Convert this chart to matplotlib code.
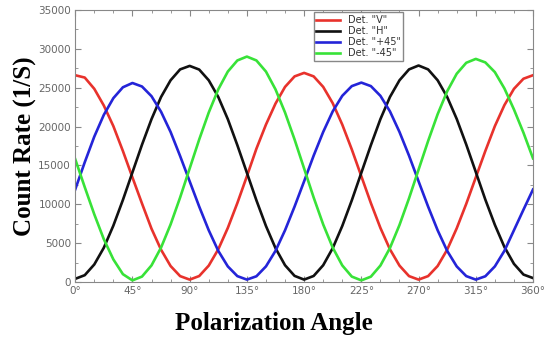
import matplotlib.pyplot as plt
from matplotlib.ticker import MultipleLocator

# polarization angle (deg), sampled every 7.5 deg
angle = [0, 7.5, 15, 22.5, 30, 37.5, 45, 52.5, 60, 67.5, 75, 82.5, 90,
         97.5, 105, 112.5, 120, 127.5, 135, 142.5, 150, 157.5, 165, 172.5, 180,
         187.5, 195, 202.5, 210, 217.5, 225, 232.5, 240, 247.5, 255, 262.5, 270,
         277.5, 285, 292.5, 300, 307.5, 315, 322.5, 330, 337.5, 345, 352.5, 360]

# count rates (1/s)
det_v = [26600, 26300, 24850, 22700, 20050, 16850, 13450, 10100, 6850, 4150, 2050, 750, 300,
         760, 2100, 4200, 6950, 10150, 13600, 17150, 20250, 22950, 25100, 26450, 26900,
         26450, 25100, 23000, 20250, 17050, 13600, 10150, 6950, 4200, 2100, 750, 300,
         750, 2050, 4150, 6900, 10050, 13450, 16850, 20050, 22750, 24850, 26150, 26600]
det_h = [400, 870, 2250, 4400, 7250, 10550, 14100, 17650, 20950, 23800, 25950, 27350, 27800,
         27330, 25950, 23800, 20950, 17600, 14050, 10500, 7200, 4350, 2150, 780, 300,
         770, 2150, 4350, 7200, 10500, 14050, 17600, 20950, 23800, 25950, 27350, 27850,
         27350, 25950, 23800, 20980, 17680, 14150, 10600, 7350, 4500, 2330, 950, 500]
det_p45 = [11900, 15400, 18700, 21500, 23650, 25050, 25600,
           25150, 23900, 21900, 19300, 16200, 12950, 9700, 6650, 4000, 2000, 750, 300,
           730, 2000, 4000, 6650, 9700, 12950, 16250, 19300, 21950, 23950, 25200, 25650,
           25200, 23950, 21950, 19300, 16250, 12950, 9700, 6650, 4000, 2000, 750, 300,
           730, 2000, 4000, 6650, 9300, 11900]
det_m45 = [15800, 12200, 8700, 5500, 2900, 1000, 200,
           690, 2130, 4420, 7400, 10870, 14600, 18330, 21800, 24780, 27070, 28500, 29000,
           28500, 27070, 24780, 21800, 18330, 14600, 10870, 7400, 4420, 2130, 690, 200,
           680, 2110, 4370, 7330, 10760, 14450, 18130, 21580, 24530, 26790, 28200, 28700,
           28250, 27000, 24900, 22200, 19200, 15900]

labels = ['Det. "V"', 'Det. "H"', 'Det. "+45"', 'Det. "-45"']
colors = ['#e8322c', '#111111', '#2424d8', '#38e238']
xticks = [0, 45, 90, 135, 180, 225, 270, 315, 360]

fig = plt.figure(figsize=(5.45, 3.43), dpi=100)
ax = fig.add_axes([0.138, 0.178, 0.840, 0.793])

for y, lab, c in zip([det_v, det_h, det_p45, det_m45], labels, colors):
    ax.plot(angle, y, color=c, lw=1.9, label=lab)

ax.set_xlim(0, 360)
ax.set_ylim(0, 35000)
ax.set_xticks(xticks)
ax.set_xticklabels([str(a) + '°' for a in xticks])
ax.yaxis.set_major_locator(MultipleLocator(5000))
ax.yaxis.set_minor_locator(MultipleLocator(2500))
ax.xaxis.set_minor_locator(MultipleLocator(15))
ax.tick_params(which='both', direction='in', top=True, right=True,
               colors='#888888', labelcolor='#666666', labelsize=7.5)
ax.tick_params(which='major', length=4, pad=3)
ax.tick_params(which='minor', length=2)
for s in ax.spines.values():
    s.set_color('#888888')

ax.set_ylabel('Count Rate (1/S)', family='Liberation Serif', fontweight='bold',
              fontsize=18, labelpad=1)
ax.set_xlabel('Polarization Angle', family='Liberation Serif', fontweight='bold',
              fontsize=18)
# the x title sits left of the axes centre in the original
ax.xaxis.set_label_coords(0.435, -0.11)

leg = ax.legend(loc='upper left', bbox_to_anchor=(0.51, 1.01), fontsize=7,
                handlelength=2.4, labelspacing=0.1, borderpad=0.3,
                fancybox=False, framealpha=1)
leg.get_frame().set_edgecolor('#888888')
for t in leg.get_texts():
    t.set_color('#333333')

fig.savefig('out.png', dpi=100)
